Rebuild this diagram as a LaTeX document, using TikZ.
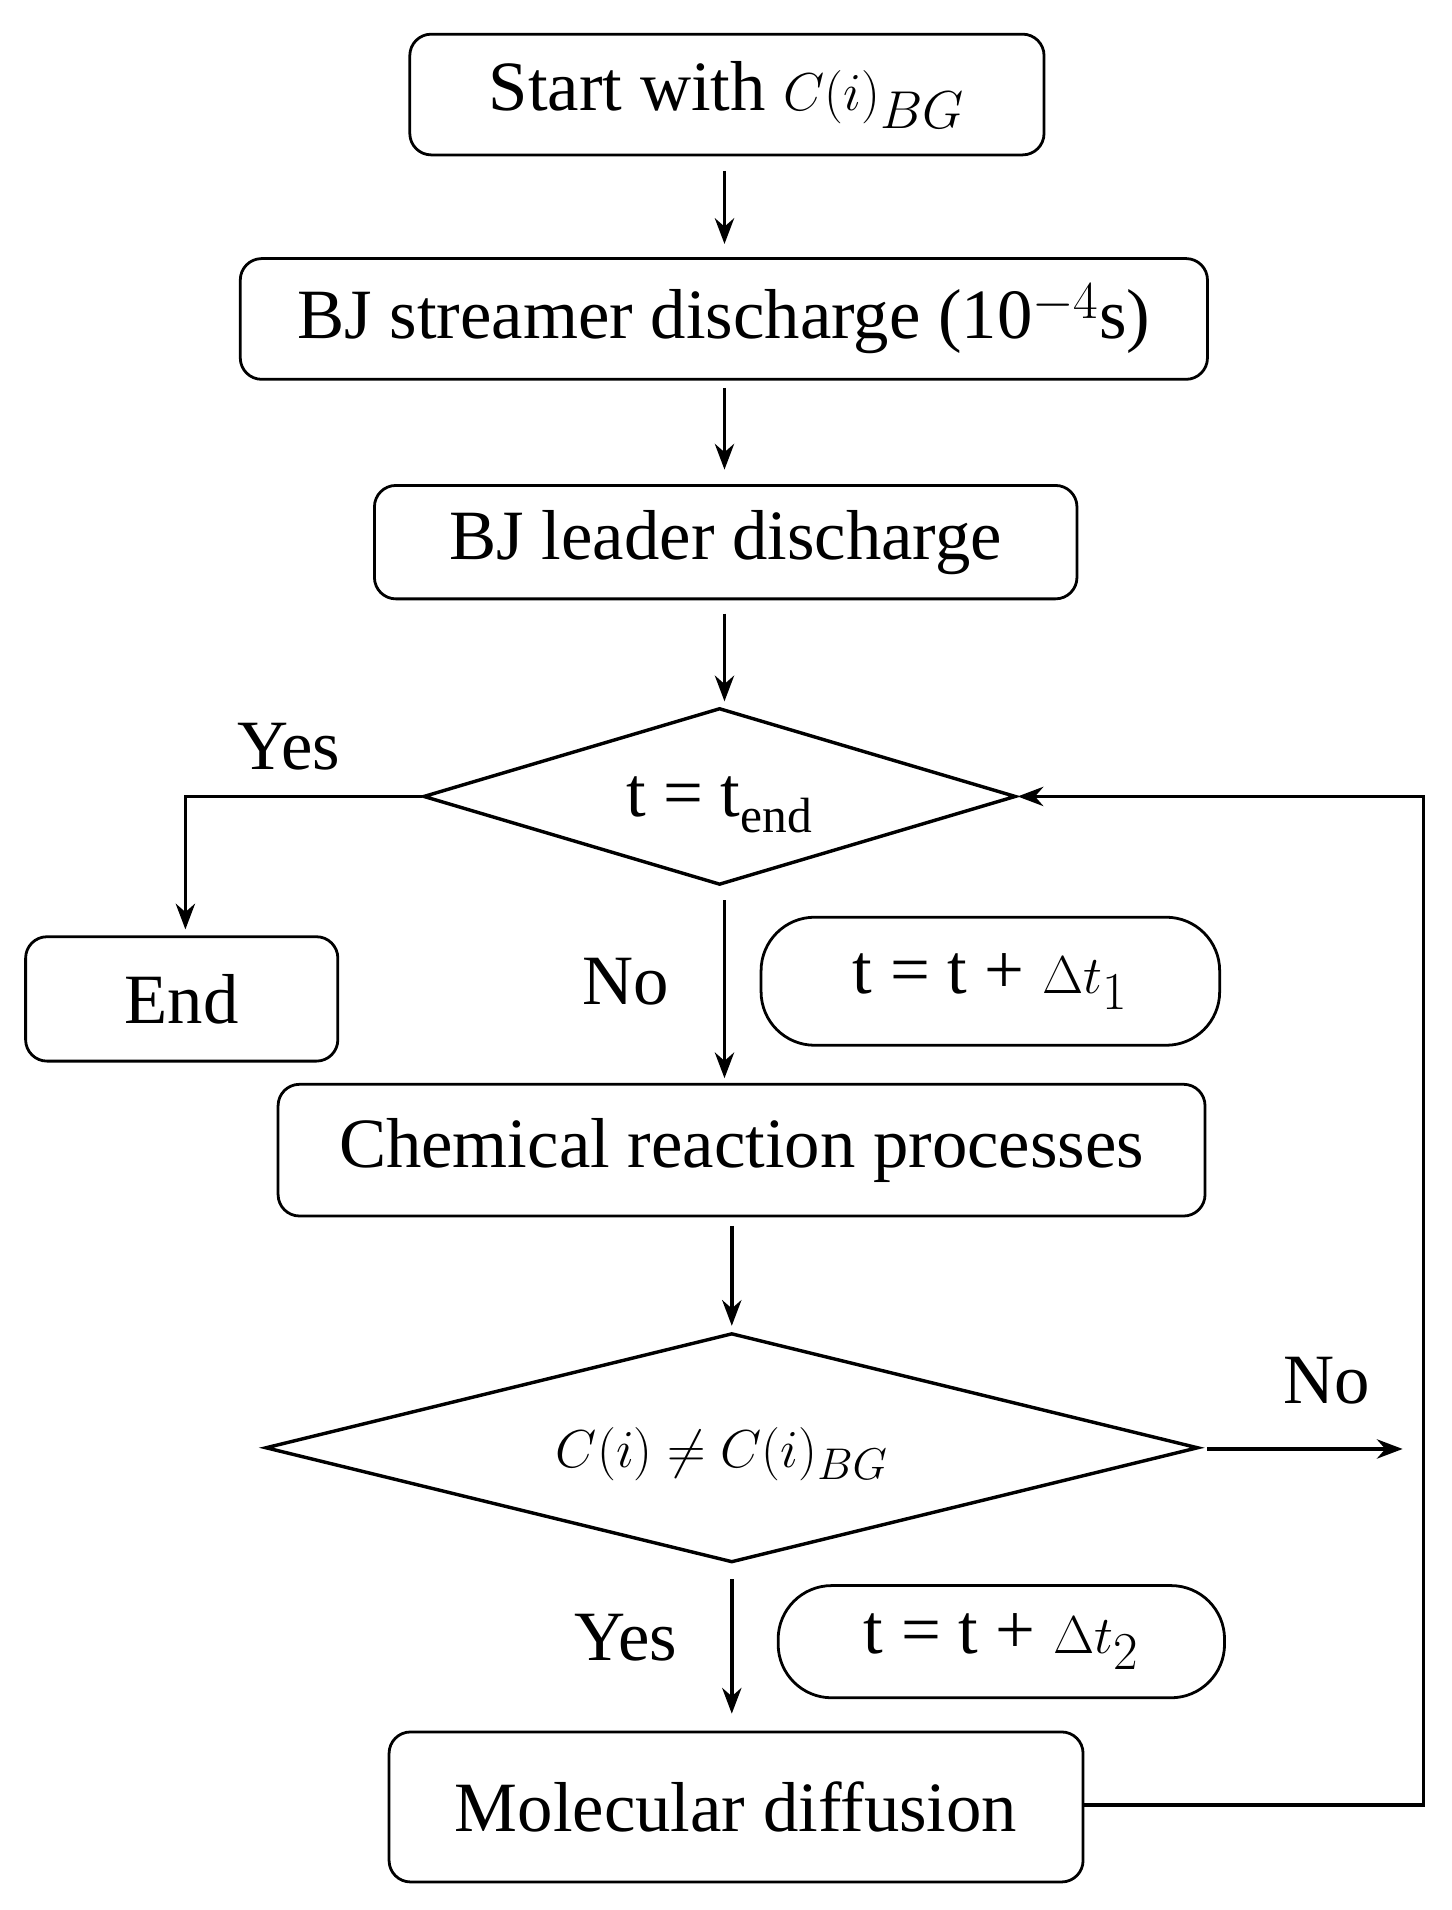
\documentclass[tikz,border=0pt]{standalone}
\usepackage{fontspec}
\setmainfont{Liberation Serif}
\usetikzlibrary{shapes.geometric,arrows.meta}
\begin{document}
\begin{tikzpicture}[x=0.02cm,y=-0.02cm,
  every node/.style={font=\fontsize{33}{38}\selectfont},
  box/.style={draw,line width=1.3pt,rounded corners=10pt,inner sep=0pt},
  pill/.style={draw,line width=1.3pt,rounded corners=25pt,inner sep=0pt},
  ln/.style={line width=1.6pt},
  arr/.style={ln,-{Stealth[length=12pt,width=9pt]}}]
\useasboundingbox (0,0) rectangle (1190,1566);
\newcommand{\bx}[6]{\node[#6,minimum width={(#3-#2)*0.02cm},minimum height={(#5-#4)*0.02cm}] (#1) at ({(#2+#3)/2},{(#4+#5)/2}) {};}
\bx{start}{336}{856}{28}{127}{box}
\node at (start) {Start with $C(i)_{BG}$};
\bx{stream}{197}{990}{212}{311}{box}
\node at (stream) {BJ streamer discharge (10$^{-4}$s)};
\bx{leader}{307}{883}{398}{491}{box}
\node at (leader) {BJ leader discharge};
\node[draw,ln,diamond,aspect=3.35,minimum width=9.72cm,minimum height=2.9cm,inner sep=0pt] (d1) at (590,653) {};
\node at (590,660) {t = t$_{\mathrm{end}}$};
\bx{end}{21}{277}{768}{870}{box}
\node at (end) {End};
\bx{p1}{624}{1000}{752}{857}{pill}
\node at (p1) {t = t + $\Delta t_1$};
\bx{chem}{228}{988}{889}{997}{box}
\node at (chem) {Chemical reaction processes};
\node[draw,ln,diamond,aspect=4.07,minimum width=15.3cm,minimum height=3.76cm,inner sep=0pt] (d2) at (600,1187) {};
\node[font=\fontsize{28}{32}\selectfont] at (592,1192) {$C(i)\neq C(i)_{BG}$};
\bx{p2}{638}{1004}{1300}{1392}{pill}
\node at (p2) {t = t + $\Delta t_2$};
\bx{mol}{319}{888}{1420}{1543}{box}
\node at (mol) {Molecular diffusion};
\node at (237,612) {Yes};
\node at (513,805) {No};
\node at (1088,1132) {No};
\node at (513,1343) {Yes};
\coordinate (a1) at (594,140); \coordinate (b1) at (594,200);
\coordinate (a2) at (594,318); \coordinate (b2) at (594,385);
\coordinate (a3) at (594,503); \coordinate (b3) at (594,575);
\coordinate (a4) at (594,738); \coordinate (b4) at (594,884);
\coordinate (a5) at (600,1005); \coordinate (b5) at (600,1087);
\coordinate (a6) at (600,1295); \coordinate (b6) at (600,1405);
\coordinate (n1) at (990,1188); \coordinate (n2) at (1150,1188);
\draw[arr] (a1)--(b1); \draw[arr] (a2)--(b2); \draw[arr] (a3)--(b3);
\draw[arr] (a4)--(b4); \draw[arr] (a5)--(b5); \draw[arr] (a6)--(b6);
\draw[arr] (n1)--(n2);
\coordinate (y1) at (152,762);
\draw[arr] (d1.west) -| (y1);
\coordinate (r1) at (1167,1480);
\draw[arr] (mol.east |- r1) -- (r1) |- (d1.east);
\end{tikzpicture}
\end{document}
